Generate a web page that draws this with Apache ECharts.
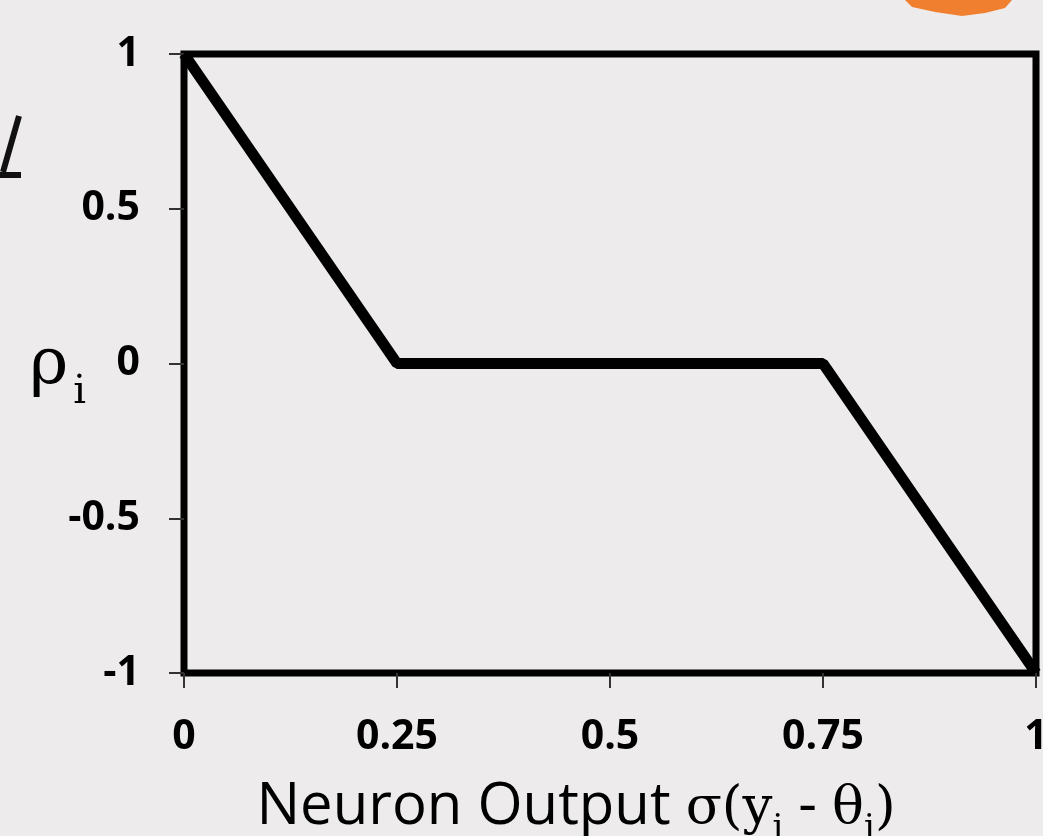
<!DOCTYPE html>
<html>
<head>
<meta charset="utf-8">
<script src="https://cdn.jsdelivr.net/npm/echarts@6/dist/echarts.min.js"></script>
<style>
html,body{margin:0;padding:0;background:#edebec;}
#c{width:1043px;height:836px;}
</style>
</head>
<body>
<div id="c"></div>
<script>
// Data
const xValues = [0, 0.25, 0.75, 1];
const yValues = [1, 0, 0, -1];
const xTicks = [0, 0.25, 0.5, 0.75, 1];
const yTicks = [-1, -0.5, 0, 0.5, 1];

const chart = echarts.init(document.getElementById('c'));
const serif = '"DejaVu Serif", "Liberation Serif", serif';
const sans = '"Open Sans", "Noto Sans", sans-serif';

chart.setOption({
  backgroundColor: '#edebec',
  animation: false,
  grid: {
    left: 184, right: 7, top: 54, bottom: 163,
    outerBoundsMode: 'none', containLabel: false,
    show: true, borderColor: '#000', borderWidth: 7, backgroundColor: 'transparent'
  },
  xAxis: {
    type: 'value', min: 0, max: 1, interval: 0.25,
    axisLine: { show: false, onZero: false },
    axisTick: { show: true, length: 15, lineStyle: { color: '#333', width: 2 } },
    splitLine: { show: false },
    axisLabel: {
      margin: 44, color: '#000', fontSize: 41, fontWeight: 'bold', fontFamily: sans,
      formatter: v => String(v)
    },
    name: '{t|Neuron Output }{s|σ(y}{b|i}{t| - }{s|θ}{b|i}{s|)}',
    nameLocation: 'middle', nameGap: 93,
    nameTextStyle: {
      padding: [0, 68, 0, 0],
      rich: {
        t: { fontFamily: sans, fontSize: 58, color: '#000', lineHeight: 70, verticalAlign: 'bottom' },
        s: { fontFamily: serif, fontSize: 53, color: '#000', lineHeight: 70, verticalAlign: 'bottom' },
        b: { fontFamily: serif, fontSize: 34, color: '#000', lineHeight: 70, verticalAlign: 'bottom', padding: [0, 0, -10, 0] }
      }
    }
  },
  yAxis: {
    type: 'value', min: -1, max: 1, interval: 0.5,
    axisLine: { show: false, onZero: false },
    axisTick: { show: true, length: 15, lineStyle: { color: '#333', width: 2 } },
    splitLine: { show: false },
    axisLabel: {
      margin: 44, color: '#000', fontSize: 41, fontWeight: 'bold', fontFamily: sans,
      formatter: v => String(v)
    },
    name: '{r|ρ}{b|i}',
    nameLocation: 'middle', nameRotate: 0, nameGap: 98,
    nameMoveOverlap: false,
    nameTextStyle: {
      padding: [0, 0, 0, 0],
      rich: {
        r: { fontFamily: serif, fontSize: 66, color: '#000', lineHeight: 70, verticalAlign: 'bottom' },
        b: { fontFamily: serif, fontSize: 40, color: '#000', lineHeight: 70, verticalAlign: 'bottom', padding: [0, 0, -14, 5] }
      }
    }
  },
  graphic: [
    { type: 'polygon', shape: { points: [[905,0],[1012,0],[1005,8],[985,13],[962,16],[935,12],[912,7]] }, style: { fill: '#f08030' } },
    { type: 'line', shape: { x1: 19, y1: 116, x2: 3, y2: 172 }, style: { stroke: '#111', lineWidth: 6 } },
    { type: 'rect', shape: { x: 0, y: 172, width: 21, height: 6 }, style: { fill: '#111' } }
  ],
  series: [{
    type: 'line',
    data: xValues.map((x, i) => [x, yValues[i]]),
    showSymbol: false,
    clip: false,
    lineStyle: { color: '#000', width: 11, join: 'bevel' }
  }]
});
</script>
</body>
</html>
